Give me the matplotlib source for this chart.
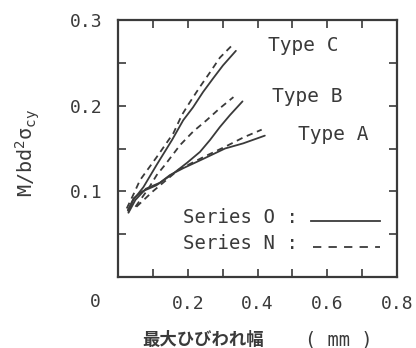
import matplotlib
matplotlib.use("Agg")
import matplotlib.pyplot as plt
from matplotlib.lines import Line2D

plt.rcParams['mathtext.fontset'] = 'custom'
plt.rcParams['mathtext.rm'] = 'DejaVu Sans Mono'
plt.rcParams['mathtext.it'] = 'DejaVu Sans Mono'
plt.rcParams['mathtext.bf'] = 'DejaVu Sans Mono'

MONO = 'DejaVu Sans Mono'
INK = '#3a3a3a'

# ---- data (crack width mm, M/bd^2 sigma_cy) ----
a_o_x = [0.030, 0.050, 0.080, 0.120, 0.149, 0.187, 0.245, 0.307, 0.359, 0.421]
a_o_y = [0.075, 0.090, 0.103, 0.110, 0.119, 0.127, 0.138, 0.150, 0.156, 0.165]
a_n_x = [0.053, 0.100, 0.173, 0.245, 0.307, 0.360, 0.412]
a_n_y = [0.082, 0.100, 0.125, 0.140, 0.152, 0.163, 0.172]

b_o_x = [0.028, 0.045, 0.070, 0.110, 0.159, 0.197, 0.235, 0.264, 0.292, 0.321, 0.357]
b_o_y = [0.078, 0.092, 0.100, 0.107, 0.121, 0.133, 0.146, 0.160, 0.175, 0.189, 0.205]
b_n_x = [0.050, 0.087, 0.111, 0.135, 0.178, 0.216, 0.254, 0.292, 0.331]
b_n_y = [0.082, 0.103, 0.119, 0.131, 0.154, 0.170, 0.183, 0.197, 0.210]

c_o_x = [0.030, 0.044, 0.073, 0.111, 0.155, 0.187, 0.215, 0.244, 0.273, 0.301, 0.338]
c_o_y = [0.076, 0.090, 0.105, 0.131, 0.160, 0.183, 0.198, 0.216, 0.232, 0.247, 0.264]
c_n_x = [0.025, 0.045, 0.063, 0.111, 0.159, 0.183, 0.206, 0.235, 0.264, 0.292, 0.326]
c_n_y = [0.080, 0.097, 0.113, 0.140, 0.168, 0.189, 0.204, 0.222, 0.239, 0.256, 0.270]

x_ticks = [0.1, 0.2, 0.3, 0.4, 0.5, 0.6, 0.7, 0.8]
x_labels = ['', '0.2', '', '0.4', '', '0.6', '', '0.8']
y_ticks = [0.05, 0.1, 0.15, 0.2, 0.25, 0.3]
y_labels = ['', '0.1', '', '0.2', '', '0.3']

fig = plt.figure(figsize=(4.16, 3.48), dpi=100)
ax = fig.add_axes([118/416, 1 - 277/348, 279/416, 257/348])
ax.set_xlim(0, 0.8)
ax.set_ylim(0, 0.3)

lw = 1.3
for xs, ys in [(a_o_x, a_o_y), (b_o_x, b_o_y), (c_o_x, c_o_y)]:
    ax.plot(xs, ys, color=INK, lw=lw, solid_capstyle='round')
for xs, ys in [(a_n_x, a_n_y), (b_n_x, b_n_y), (c_n_x, c_n_y)]:
    ax.plot(xs, ys, color=INK, lw=lw, linestyle=(0, (3.5, 2.6)))

for s in ax.spines.values():
    s.set_linewidth(1.6)
    s.set_color(INK)

ax.set_xticks(x_ticks)
ax.set_xticklabels(x_labels, fontfamily=MONO, fontsize=13, color=INK)
ax.set_yticks(y_ticks)
ax.set_yticklabels(y_labels, fontfamily=MONO, fontsize=13, color=INK)
ax.tick_params(direction='in', length=6, width=1.2, color=INK,
               top=True, right=True)
ax.tick_params(axis='x', pad=13)
ax.tick_params(axis='y', pad=11)

ax.text(-0.082, -0.097, '0', transform=ax.transAxes, ha='center', va='center',
        fontfamily=MONO, fontsize=13, color=INK, clip_on=False)

tk = dict(transform=ax.transAxes, ha='center', va='center', fontfamily=MONO,
          fontsize=14, color=INK)
ax.text(0.663, 0.899, 'Type C', **tk)
ax.text(0.677, 0.704, 'Type B', **tk)
ax.text(0.771, 0.553, 'Type A', **tk)

lk = dict(transform=ax.transAxes, ha='left', va='center', fontfamily=MONO,
          fontsize=13.7, color=INK)
ax.text(0.233, 0.230, 'Series O :', **lk)
ax.text(0.233, 0.132, 'Series N :', **lk)
ax.add_line(Line2D([0.692, 0.939], [0.218, 0.218], transform=ax.transAxes,
                   color=INK, lw=lw))
ax.add_line(Line2D([0.699, 0.939], [0.117, 0.117], transform=ax.transAxes,
                   color=INK, lw=lw, linestyle=(0, (4.6, 4.0))))

fig.text(28/416, 1 - 153/348, r'M/bd$^2\sigma_{\rm cy}$', rotation=90,
         ha='center', va='center', fontfamily=MONO, fontsize=14.5, color=INK)
fig.text(203/416, 1 - 340/348, '最大ひびわれ幅', ha='center', va='center',
         fontfamily=['Noto Sans CJK JP', 'DejaVu Sans'], fontweight='bold',
         fontsize=12.5, color=INK)
fig.text(339/416, 1 - 340/348, '( mm )', ha='center', va='center',
         fontfamily=MONO, fontsize=13.5, color=INK)

fig.savefig('out.png', dpi=100)
